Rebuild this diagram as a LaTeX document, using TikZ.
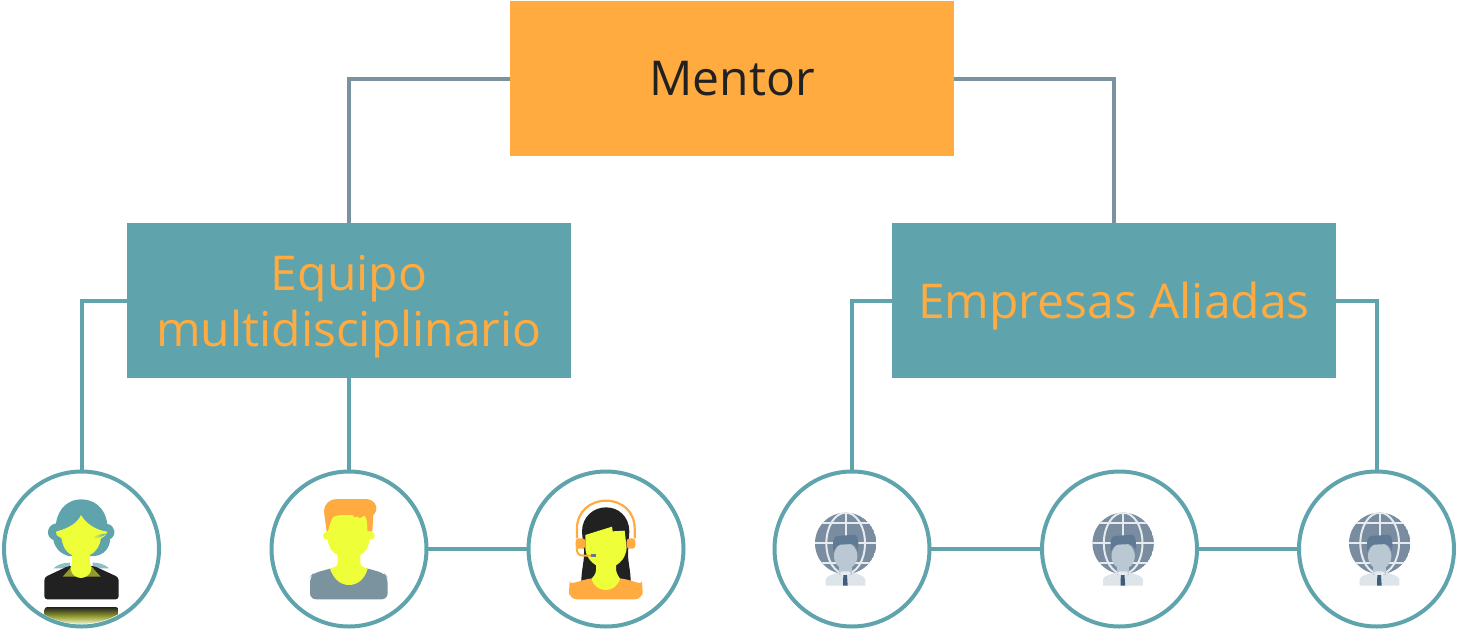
\documentclass[tikz,border=0pt]{standalone}
\usepackage{fontspec}
\setmainfont{Open Sans}
\usetikzlibrary{shadings}
\definecolor{teal1}{HTML}{5FA4AC}
\definecolor{slate1}{HTML}{7A939F}
\definecolor{orange1}{HTML}{FFAB40}
\definecolor{dark1}{HTML}{212121}
\definecolor{lime1}{HTML}{EEFF3A}
\definecolor{gl1}{HTML}{7A8CA0}
\definecolor{gl2}{HTML}{E6EBEF}
\definecolor{gl3}{HTML}{B9C8D2}
\definecolor{gl4}{HTML}{DDE4EA}
\definecolor{gl5}{HTML}{5F7A94}
\definecolor{gl6}{HTML}{3F5C7A}
\tikzset{
  topbox/.style={fill=orange1,minimum width=444pt,minimum height=155pt,inner sep=0pt,outer sep=0pt,text=dark1,font=\fontsize{48}{58}\selectfont},
  midbox/.style={fill=teal1,minimum width=444pt,minimum height=155pt,inner sep=0pt,outer sep=0pt,text=orange1,align=center,font=\fontsize{48}{56}\selectfont},
  ring/.style={circle,draw=teal1,line width=4pt,minimum size=155pt,inner sep=0pt,outer sep=0pt},
  greyline/.style={draw=slate1,line width=4pt},
  tealline/.style={draw=teal1,line width=4pt},
  icon/.style={x=0.33333pt,y=-0.33333pt}
}
\newcommand{\globeman}[1]{%
\begin{scope}[shift={(#1,490)},icon]
  \begin{scope}
    \clip (167,160) circle[radius=92];
    \fill[gl1] (167,160) circle[radius=92];
    \draw[gl2,line width=2.2pt] (167,60) -- (167,260);
    \draw[gl2,line width=2.2pt] (70,160) -- (265,160);
    \draw[gl2,line width=2pt] (75,100) -- (260,100);
    \draw[gl2,line width=2pt] (75,220) -- (260,220);
    \draw[gl2,line width=2pt] (167,160) ellipse[x radius=58,y radius=92];
  \end{scope}
  \fill[gl4] (107,287) -- (107,268) .. controls (108,258) and (125,254) .. (145,248) -- (188,248) .. controls (208,254) and (224,258) .. (226,268) -- (226,287) -- cycle;
  \fill[gl3] (147,215) rectangle (185,255);
  \fill[gl2] (148,250) -- (165,262) -- (184,250) -- (176,244) -- (156,244) -- cycle;
  \fill[gl6] (160,255) -- (171,255) -- (173,287) -- (159,287) -- cycle;
  \fill[gl3] (167,198) ellipse[x radius=35,y radius=40];
  \fill[gl5] (130,185) .. controls (128,160) and (128,142) .. (140,138) -- (195,134) .. controls (208,140) and (206,165) .. (203,185) .. controls (203,172) and (195,165) .. (188,162) -- (150,164) .. controls (138,168) and (132,175) .. (130,185) -- cycle;
\end{scope}}
\begin{document}
\begin{tikzpicture}[x=1pt,y=-1pt]
\useasboundingbox (0,0) rectangle (1457,630);
\node[topbox] (mentor) at (732,78.5) {Mentor};
\node[midbox] (equipo) at (349,300.5) {\rule{0pt}{48pt}Equipo\\multidisciplinario};
\node[midbox] (empresas) at (1114,300.5) {\rule{0pt}{48pt}Empresas Aliadas};
\node[ring] (c1) at (81.5,549) {};
\node[ring] (c2) at (349,549) {};
\node[ring] (c3) at (606,549) {};
\node[ring] (c4) at (852,549) {};
\node[ring] (c5) at (1119.5,549) {};
\node[ring] (c6) at (1376.5,549) {};
\draw[greyline] (mentor.west) -| (equipo.north);
\draw[greyline] (mentor.east) -| (empresas.north);
\draw[tealline] (equipo.west) -| (c1.north);
\draw[tealline] (equipo.south) -- (c2.north);
\draw[tealline] (c2.east) -- (c3.west);
\draw[tealline] (empresas.west) -| (c4.north);
\draw[tealline] (empresas.east) -| (c6.north);
\draw[tealline] (c4.east) -- (c5.west);
\draw[tealline] (c5.east) -- (c6.west);
% woman 1
\begin{scope}[shift={(0,460)},icon]
  \begin{scope}
    \clip (243,267) circle[radius=225];
    \shade[top color=dark1,bottom color=lime1!15,middle color=lime1!55!dark1,rounded corners=3pt] (133,441) rectangle (356,495);
  \end{scope}
  \fill[teal1!70] (160,325) .. controls (175,312) and (190,308) .. (210,308) -- (210,325) -- cycle;
  \fill[teal1!70] (328,325) .. controls (312,312) and (298,308) .. (278,308) -- (278,325) -- cycle;
  \fill[dark1,rounded corners=3pt] (133,418) -- (133,352) -- (205,318) -- (282,318) -- (356,352) -- (356,418) -- cycle;
  \fill[lime1!55!dark1] (188,350) -- (215,320) -- (275,320) -- (302,350) -- cycle;
  \fill[teal1] (168,190) .. controls (175,140) and (210,118) .. (243,118) .. controls (280,118) and (315,140) .. (322,192) .. controls (345,195) and (352,225) .. (330,238) .. controls (330,265) and (310,285) .. (285,288) -- (205,288) .. controls (180,280) and (165,265) .. (160,240) .. controls (135,230) and (140,195) .. (168,190) -- cycle;
  \fill[lime1] (243,165) .. controls (232,190) and (205,205) .. (168,215) .. controls (168,225) and (175,232) .. (184,234) .. controls (190,265) and (200,278) .. (216,285) -- (216,310) .. controls (205,325) and (215,352) .. (243,354) .. controls (270,352) and (282,325) .. (270,310) -- (270,285) .. controls (290,275) and (300,255) .. (303,235) .. controls (310,232) and (320,225) .. (322,215) .. controls (295,212) and (260,195) .. (243,165) -- cycle;
  \shade[left color=lime1,right color=teal1] (275,236) .. controls (285,226) and (305,220) .. (320,221) .. controls (310,230) and (290,236) .. (275,236) -- cycle;
\end{scope}
% man
\begin{scope}[shift={(265,460)},icon]
  \fill[slate1,rounded corners=6pt] (135,418) -- (135,350) -- (145,340) -- (205,323) -- (300,323) -- (358,340) -- (368,352) -- (368,418) -- cycle;
  \fill[orange1] (185,215) -- (177,155) .. controls (178,130) and (195,117) .. (215,117) -- (305,117) .. controls (335,120) and (342,150) .. (325,165) -- (322,215) -- cycle;
  \fill[lime1] (174,227) .. controls (174,218) and (182,214) .. (188,216) -- (200,178) .. controls (205,165) and (220,165) .. (262,165) -- (268,172) -- (278,170) -- (285,175) -- (298,167) .. controls (305,170) and (307,190) .. (307,214) .. controls (320,212) and (330,220) .. (329,228) .. controls (328,238) and (320,240) .. (314,239) .. controls (310,265) and (300,278) .. (286,285) -- (286,310) .. controls (286,318) and (295,322) .. (308,326) .. controls (300,355) and (280,375) .. (252,375) .. controls (225,375) and (205,355) .. (195,326) .. controls (208,322) and (218,318) .. (218,310) -- (218,285) .. controls (202,278) and (192,265) .. (188,239) .. controls (180,240) and (174,235) .. (174,227) -- cycle;
\end{scope}
% woman with headset
\begin{scope}[shift={(522,460)},icon]
  \fill[dark1] (178,365) .. controls (178,330) and (186,310) .. (186,280) -- (180,215) .. controls (180,170) and (215,142) .. (252,142) .. controls (290,142) and (322,170) .. (322,215) -- (318,280) .. controls (318,310) and (326,330) .. (326,365) -- cycle;
  \fill[orange1,rounded corners=8pt] (141,418) -- (141,385) .. controls (142,375) and (155,368) .. (212,353) -- (292,353) .. controls (350,368) and (361,375) .. (362,385) -- (362,418) -- cycle;
  \fill[lime1] (190,225) -- (270,200) -- (272,214) -- (308,212) -- (314,265) .. controls (310,295) and (295,308) .. (282,316) -- (282,330) .. controls (285,345) and (292,352) .. (294,356) .. controls (288,378) and (270,390) .. (252,390) .. controls (232,390) and (214,378) .. (209,356) .. controls (214,350) and (222,342) .. (222,330) -- (222,316) .. controls (205,305) and (192,290) .. (190,265) -- cycle;
  \draw[orange1,line width=2.2pt] (165,235) -- (165,205) .. controls (165,155) and (205,122) .. (252,122) .. controls (300,122) and (338,155) .. (338,205) -- (338,235);
  \fill[orange1,rounded corners=3pt] (161,235) rectangle (190,266);
  \fill[orange1,rounded corners=3pt] (314,235) rectangle (340,266);
  \draw[orange1,line width=2pt] (164,262) .. controls (164,280) and (170,287) .. (185,287) -- (210,287);
  \fill[white] (171,266) rectangle (187,279);
  \fill[gl5] (208,282) rectangle (222,291);
\end{scope}
\globeman{790}
\globeman{1067.5}
\globeman{1324}
\end{tikzpicture}
\end{document}
